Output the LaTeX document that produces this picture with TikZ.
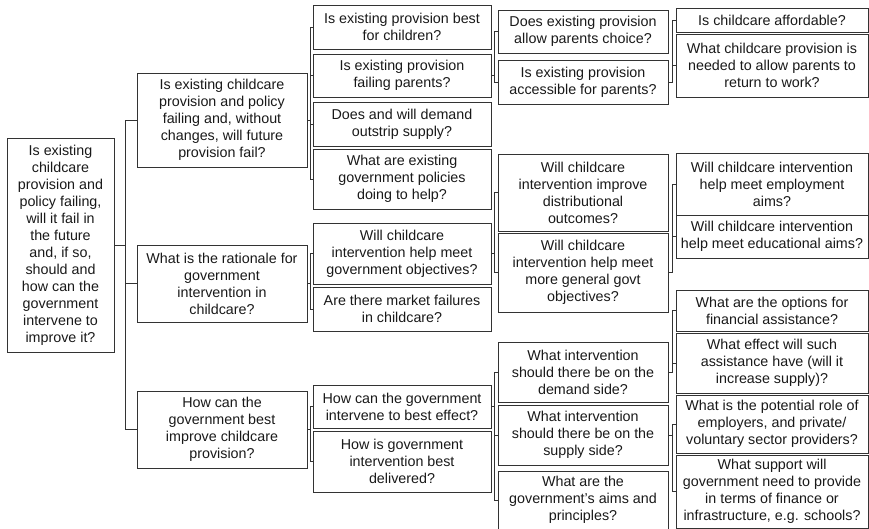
\documentclass[tikz,border=0pt]{standalone}
\usepackage{fontspec}
\setmainfont{Liberation Sans}
\usepackage{tikz}

\tikzset{
  qbox/.style={draw=black!80, line width=0.8pt, align=center, inner sep=1pt,
    font=\fontsize{14.3}{17}\selectfont, text=black!90},
  colone/.style={qbox, minimum width=107pt},
  coltwo/.style={qbox, minimum width=170pt},
  colthree/.style={qbox, minimum width=178pt},
  colfour/.style={qbox, minimum width=170pt},
  colfive/.style={qbox, minimum width=192pt},
  link/.style={draw=black!80, line width=0.7pt}
}

\begin{document}
\begin{tikzpicture}[x=1pt, y=-1pt]
        \useasboundingbox (0,0) rectangle (869,529);
        % main question
        \node[colone, minimum height=214pt] (root) at (60.5,245) {Is existing\\childcare\\provision and\\policy failing,\\will it fail in\\the future\\and, if so,\\should and\\how can the\\government\\intervene to\\improve it?};
        % second level
        \node[coltwo, minimum height=94pt] (fail) at (222,120) {Is existing childcare\\provision and policy\\failing and, without\\changes, will future\\provision fail?};
        \node[coltwo, minimum height=77pt] (rationale) at (222,283.5) {What is the rationale for\\government\\intervention in\\childcare?};
        \node[coltwo, minimum height=77pt] (howbest) at (222,429.5) {How can the\\government best\\improve childcare\\provision?};
        % third level
        \node[colthree, minimum height=44pt] (children) at (402,27) {Is existing provision best\\for children?};
        \node[colthree, minimum height=43pt] (parents) at (402,75.5) {Is existing provision\\failing parents?};
        \node[colthree, minimum height=44pt] (demand) at (402,124) {Does and will demand\\outstrip supply?};
        \node[colthree, minimum height=60pt] (policies) at (402,179) {What are existing\\government policies\\doing to help?};
        \node[colthree, minimum height=61pt] (objectives) at (402,253.5) {Will childcare\\intervention help meet\\government objectives?};
        \node[colthree, minimum height=44pt] (market) at (402,309) {Are there market failures\\in childcare?};
        \node[colthree, minimum height=43pt] (effect) at (402,406.5) {How can the government\\intervene to best effect?};
        \node[colthree, minimum height=61pt] (delivered) at (402,461.5) {How is government\\intervention best\\delivered?};
        % fourth level
        \node[colfour, minimum height=43pt] (choice) at (583,31.5) {Does existing provision\\allow parents choice?};
        \node[colfour, minimum height=44pt] (access) at (583,82) {Is existing provision\\accessible for parents?};
        \node[colfour, minimum height=77pt] (distrib) at (583,192.5) {Will childcare\\intervention improve\\distributional\\outcomes?};
        \node[colfour, minimum height=79pt] (general) at (583,272.5) {Will childcare\\intervention help meet\\more general govt\\objectives?};
        \node[colfour, minimum height=60pt] (demside) at (583,372) {What intervention\\should there be on the\\demand side?};
        \node[colfour, minimum height=60pt] (supside) at (583,435) {What intervention\\should there be on the\\supply side?};
        \node[colfour, minimum height=58pt] (aims) at (583,500) {What are the\\government's aims and\\principles?};
        % fifth level
        \node[colfive, minimum height=24pt] (afford) at (772,20) {Is childcare affordable?};
        \node[colfive, minimum height=63pt] (return) at (772,65.5) {What childcare provision is\\needed to allow parents to\\return to work?};
        \node[colfive, minimum height=62pt] (employ) at (772,184) {Will childcare intervention\\help meet employment\\aims?};
        \node[colfive, minimum height=43pt] (educ) at (772,236.5) {Will childcare intervention\\help meet educational aims?};
        \node[colfive, minimum height=41pt] (options) at (772,310.5) {What are the options for\\financial assistance?};
        \node[colfive, minimum height=60pt] (assist) at (772,363) {What effect will such\\assistance have (will it\\increase supply)?};
        \node[colfive, minimum height=58pt] (role) at (772,424) {What is the potential role of\\employers, and private/\\voluntary sector providers?};
        \node[colfive, minimum height=73pt] (support) at (772,491.5) {What support will\\government need to provide\\in terms of finance or\\infrastructure, e.g. schools?};
        % links
        \draw[link] (root.east) -- ++(11,0) |- (fail.west);
        \draw[link] (root.east) -- ++(11,0) |- (rationale.west);
        \draw[link] (root.east) -- ++(11,0) |- (howbest.west);
        \draw[link] (fail.east) -- ++(3,0) |- (children.west);
        \draw[link] (fail.east) -- ++(3,0) |- (parents.west);
        \draw[link] (fail.east) -- ++(3,0) |- (demand.west);
        \draw[link] (fail.east) -- ++(3,0) |- (policies.west);
        \draw[link] (rationale.east) -- ++(3,0) |- (objectives.west);
        \draw[link] (rationale.east) -- ++(3,0) |- (market.west);
        \draw[link] (howbest.east) -- ++(3,0) |- (effect.west);
        \draw[link] (howbest.east) -- ++(3,0) |- (delivered.west);
        \draw[link] (parents.east) -- ++(3,0) |- (choice.west);
        \draw[link] (parents.east) -- ++(3,0) |- (access.west);
        \draw[link] (objectives.east) -- ++(3,0) |- (distrib.west);
        \draw[link] (objectives.east) -- ++(3,0) |- (general.west);
        \draw[link] (effect.east) -- ++(3,0) |- (demside.west);
        \draw[link] (effect.east) -- ++(3,0) |- (supside.west);
        \draw[link] (effect.east) -- ++(3,0) |- (aims.west);
        \draw[link] (access.east) -- ++(4,0) |- (afford.west);
        \draw[link] (access.east) -- ++(4,0) |- (return.west);
        \draw[link] (general.east) -- ++(4,0) |- (employ.west);
        \draw[link] (general.east) -- ++(4,0) |- (educ.west);
        \draw[link] (demside.east) -- ++(4,0) |- (options.west);
        \draw[link] (demside.east) -- ++(4,0) |- (assist.west);
        \draw[link] (supside.east) -- ++(4,0) |- (role.west);
        \draw[link] (supside.east) -- ++(4,0) |- (support.west);
\end{tikzpicture}
\end{document}
